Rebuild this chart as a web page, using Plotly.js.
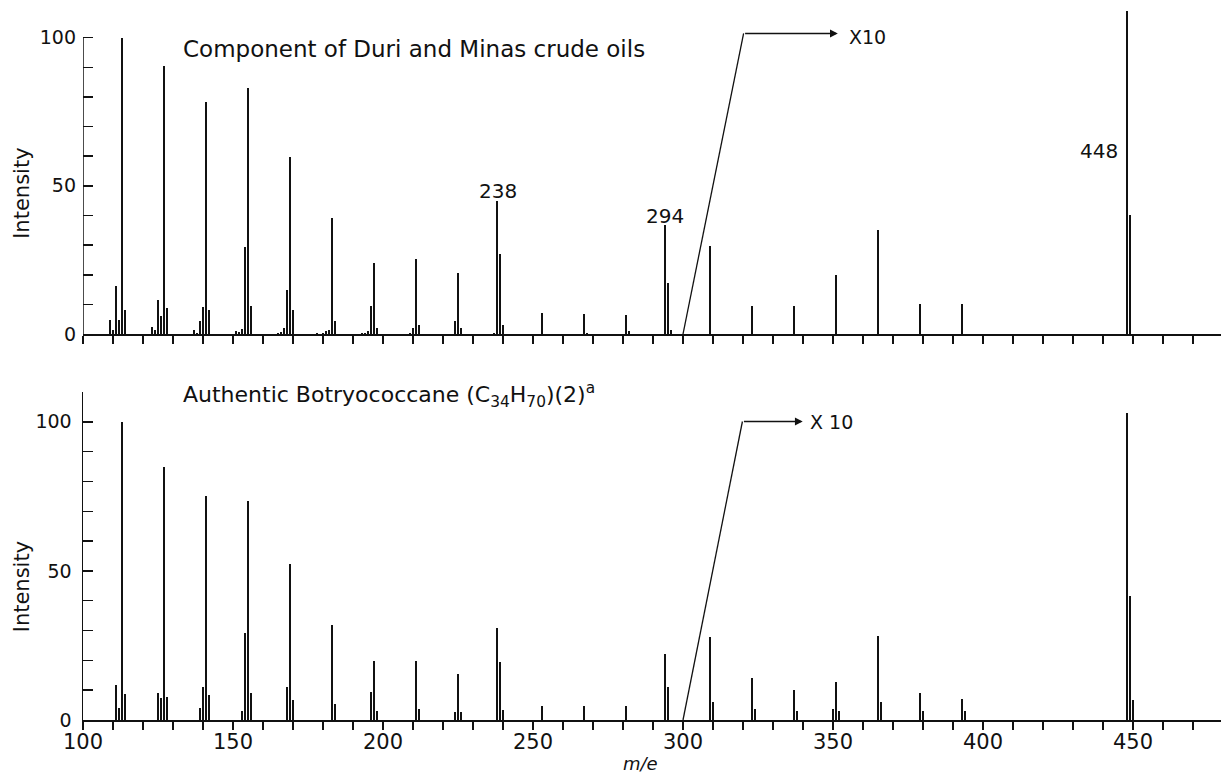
<!DOCTYPE html>
<html>
<head>
<meta charset="utf-8">
<script src="https://cdn.plot.ly/plotly-3.0.1.min.js"></script>
<style>html,body{margin:0;padding:0;background:#fff;}#chart{width:1221px;height:774px;}</style>
</head>
<body>
<div id="chart"></div>
<script>
// Top spectrum: Component of Duri and Minas crude oils (m/e, relative intensity; >300 shown x10)
const topMz  = [109,110,111,112,113,114, 123,124,125,126,127,128, 137,138,139,140,141,142,
                151,152,153,154,155,156, 165,166,167,168,169,170, 178,180,181,182,183,184,
                193,194,195,196,197,198, 209,210,211,212, 224,225,226, 237,238,239,240,
                253, 267,268, 281,282, 294,295,296, 309, 323, 337, 351, 365, 379, 393, 448,449];
const topInt = [4.8,1.5,16.3,4.8,100,8.2, 2.3,1.5,11.6,6.2,90.4,8.8, 1.5,0.5,4.5,9.1,78.3,8.2,
                0.9,0.7,1.8,29.3,83.1,9.3, 0.4,0.7,2.0,15.0,59.8,8.2, 0.3,0.3,0.9,1.4,39.2,4.3,
                0.4,0.3,0.9,9.6,24.0,2.0, 0.3,2.0,25.3,3.0, 4.3,20.5,2.0, 0.5,44.8,27.0,3.2,
                7.2, 6.9,0.4, 6.5,1.0, 36.7,17.2,1.5, 29.7, 9.5, 9.5, 20.0, 35.2, 10.1, 10.1, 108.9,40.3];

// Bottom spectrum: Authentic Botryococcane (C34H70)
const botMz  = [111,112,113,114, 125,126,127,128, 139,140,141,142, 153,154,155,156, 168,169,170,
                183,184, 196,197,198, 211,212, 224,225,226, 238,239,240, 253, 267, 281,
                294,295, 309,310, 323,324, 337,338, 350,351,352, 365,366, 379,380, 393,394, 448,449,450];
const botInt = [11.7,3.9,100,8.7, 8.9,7.5,85,7.8, 3.9,11,75,8.4, 3.0,29.1,73.3,8.9, 11.2,52.2,6.7,
                31.7,5.5, 9.5,19.7,3.0, 19.7,3.6, 2.7,15.5,2.7, 30.8,19.6,3.5, 4.8, 4.6, 4.6,
                22.1,11.0, 28.0,6.0, 14.0,3.6, 10.1,2.9, 3.6,12.9,3.0, 28.2,5.9, 8.9,3.0, 6.9,3.1, 102.9,41.6,6.7];

// Axis ticks
const xTickVals = [];
for (let v = 100; v <= 470; v += 10) xTickVals.push(v);
const xTickText = xTickVals.map(v => (v % 50 === 0 ? String(v) : ''));
const yTickValsTop = [0,10,20,30,40,50,60,70,80,90,100];
const yTickValsBot = [0,10,20,30,40,50,60,70,80,90,100,110];
const yTickText = v => (v % 50 === 0 ? String(v) : '');

const FONT = 'DejaVu Sans, sans-serif';
const INK = '#111';

const traces = [
  {type:'bar', x: topMz, y: topInt, xaxis:'x2', yaxis:'y2', width:0.55,
   marker:{color:INK, line:{width:0}}, hoverinfo:'skip', showlegend:false},
  {type:'bar', x: botMz, y: botInt, xaxis:'x', yaxis:'y', width:0.55,
   marker:{color:INK, line:{width:0}}, hoverinfo:'skip', showlegend:false}
];

const xCommon = {range:[100, 479.33], showgrid:false, zeroline:false, showline:true, linecolor:INK, linewidth:2,
  ticks:'outside', ticklen:8, tickwidth:1.5, tickcolor:INK, tickmode:'array', tickvals:xTickVals, fixedrange:true};

const layout = {
  width:1221, height:774,
  margin:{l:83, r:0, t:8, b:54},
  paper_bgcolor:'#fff', plot_bgcolor:'#fff',
  bargap:0,
  font:{family:FONT, color:INK},
  xaxis: Object.assign({}, xCommon, {anchor:'y', ticktext:xTickText, ticklabelstandoff:-6, tickfont:{size:21, family:FONT}}),
  xaxis2: Object.assign({}, xCommon, {anchor:'y2', matches:'x', showticklabels:false}),
  yaxis: {domain:[0,0.4607], range:[0,110], showgrid:false, zeroline:false, showline:true, linecolor:INK, linewidth:1.5,
    ticks:'inside', ticklen:10, tickwidth:1.5, tickcolor:INK, tickmode:'array', tickvals:yTickValsBot,
    ticktext:yTickValsBot.map(yTickText), ticklabelstandoff:6, tickfont:{size:19, family:FONT}, fixedrange:true},
  yaxis2: {domain:[0.5421,1], range:[0,110], anchor:'x2', showgrid:false, zeroline:false, showline:false,
    ticks:'inside', ticklen:10, tickwidth:1.5, tickcolor:INK, tickmode:'array', tickvals:yTickValsTop,
    ticktext:yTickValsTop.map(yTickText), ticklabelstandoff:6, tickfont:{size:19, family:FONT}, fixedrange:true},
  shapes:[
    {type:'line', xref:'x2', yref:'y2', x0:100, x1:100, y0:0, y1:100, line:{color:INK, width:1.5}},
    {type:'line', xref:'x2', yref:'y2', x0:300, y0:0, x1:320.2, y1:101.4, line:{color:INK, width:1.3}},
    {type:'line', xref:'x', yref:'y', x0:300, y0:0, x1:319.8, y1:100.1, line:{color:INK, width:1.3}}
  ],
  annotations:[
    {xref:'x2', yref:'y2', x:132.8, y:96.3, xanchor:'left', yanchor:'middle', showarrow:false,
     text:'Component of Duri and Minas crude oils', font:{size:23, family:FONT}},
    {xref:'x2', yref:'y2', x:238.2, y:48.4, showarrow:false, text:'238', font:{size:20, family:FONT}},
    {xref:'x2', yref:'y2', x:293.9, y:39.9, showarrow:false, text:'294', font:{size:20, family:FONT}},
    {xref:'x2', yref:'y2', x:438.6, y:61.6, showarrow:false, text:'448', font:{size:20, family:FONT}},
    {xref:'x2', yref:'y2', x:351.6, y:101.4, axref:'x2', ayref:'y2', ax:320.2, ay:101.4, text:'',
     showarrow:true, arrowhead:2, arrowsize:1.2, arrowwidth:1.3, arrowcolor:INK},
    {xref:'x2', yref:'y2', x:354.6, y:100.3, xanchor:'left', yanchor:'middle', showarrow:false, text:'X10', font:{size:19, family:FONT}},
    {xref:'x', yref:'y', x:132.8, y:109.1, xanchor:'left', yanchor:'middle', showarrow:false,
     text:'Authentic Botryococcane (C<sub>34</sub>H<sub>70</sub>)(2)<sup>a</sup>', font:{size:22, family:FONT}},
    {xref:'x', yref:'y', x:339.9, y:100.1, axref:'x', ayref:'y', ax:319.8, ay:100.1, text:'',
     showarrow:true, arrowhead:2, arrowsize:1.2, arrowwidth:1.3, arrowcolor:INK},
    {xref:'x', yref:'y', x:341.6, y:99.8, xanchor:'left', yanchor:'middle', showarrow:false, text:'X 10', font:{size:19, family:FONT}},
    {xref:'paper', yref:'y2', x:-0.0536, y:47.3, xanchor:'center', yanchor:'middle', textangle:-90, showarrow:false, text:'Intensity', font:{size:21, family:FONT}},
    {xref:'paper', yref:'y', x:-0.0536, y:44.5, xanchor:'center', yanchor:'middle', textangle:-90, showarrow:false, text:'Intensity', font:{size:21, family:FONT}},
    {xref:'paper', yref:'paper', x:0.49, y:-0.0604, xanchor:'center', yanchor:'middle', showarrow:false, text:'<i>m/e</i>', font:{size:18, family:FONT}}
  ]
};

Plotly.newPlot('chart', traces, layout, {displayModeBar:false, staticPlot:true});
</script>
</body>
</html>
